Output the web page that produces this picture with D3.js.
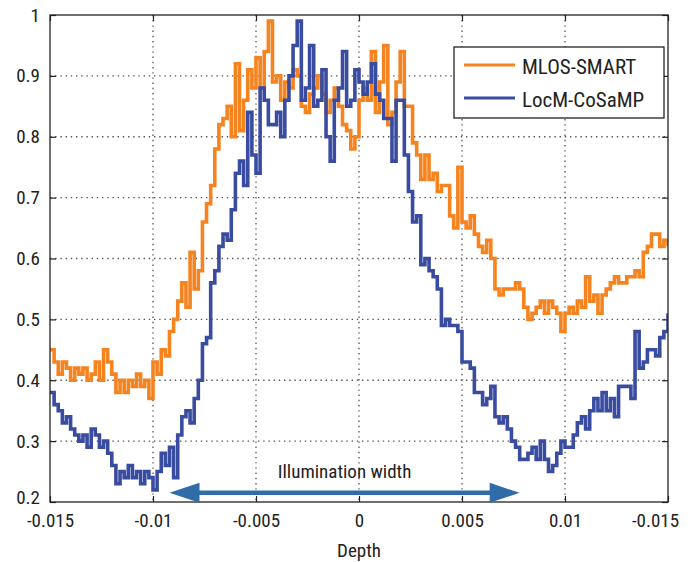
<!DOCTYPE html>
<html>
<head>
<meta charset="utf-8">
<script src="https://cdn.jsdelivr.net/npm/d3@7"></script>
<style>
body { margin: 0; background: #fff; }
svg text { font-family: "Liberation Sans Narrow", "Arial Narrow", "Roboto Condensed", sans-serif; fill: #222; }
</style>
</head>
<body>
<script>
// depth grid: start and step of the sampled profile
var depthStart = -0.015, depthStep = 0.0002;

var mlosSmart = [
  0.45,0.43,0.41,0.43,0.42,0.40,0.42,0.41,0.42,0.40,0.41,0.43,0.40,0.45,0.43,0.41,0.38,0.40,0.38,0.40,0.39,0.41,0.39,0.40,0.37,
  0.43,
  0.41,0.45,0.44,0.48,0.50,0.53,0.56,0.52,0.61,0.55,0.58,0.66,0.69,0.72,0.78,0.82,0.83,0.85,0.80,0.92,0.81,0.86,0.91,0.88,
  0.93,0.88,0.94,0.99,0.89,0.90,0.86,0.89,0.88,0.91,0.90,0.85,0.84,0.87,0.88,0.90,0.87,0.84,0.86,0.88,0.85,0.82,0.81,0.78,0.80,
  0.86,0.88,0.86,0.94,0.84,0.89,0.95,0.82,0.84,0.89,0.94,0.85,0.85,0.79,0.77,0.73,0.77,0.73,0.74,0.71,0.72,0.72,0.67,0.65,0.75,
  0.66,0.65,0.67,0.64,0.62,0.61,0.63,0.60,0.55,0.54,0.55,0.55,0.55,0.56,0.55,0.52,0.50,0.51,0.52,0.53,0.51,0.53,0.52,0.51,0.48,
  0.51,0.52,0.51,0.53,0.52,0.57,0.53,0.54,0.51,0.54,0.55,0.56,0.57,0.56,0.56,0.57,0.57,0.58,0.57,0.61,0.62,0.64,0.64,0.62,0.63,0.62
];
var locmCosamp = [
  0.38,0.36,0.35,0.33,0.34,0.32,0.31,0.30,0.31,0.29,0.32,0.31,0.29,0.30,0.28,0.26,0.23,0.25,0.24,0.26,0.24,0.25,0.23,0.25,0.24,
  0.22,
  0.25,0.28,0.26,0.29,0.24,0.31,0.34,0.35,0.33,0.37,0.40,0.46,0.47,0.56,0.58,0.62,0.64,0.63,0.68,0.74,0.76,0.72,0.84,0.77,
  0.74,0.88,0.86,0.82,0.82,0.84,0.80,0.86,0.90,0.95,0.99,0.86,0.88,0.95,0.85,0.86,0.91,0.80,0.76,0.86,0.88,0.94,0.85,0.86,0.91,
  0.89,0.87,0.89,0.92,0.87,0.86,0.83,0.83,0.76,0.86,0.86,0.77,0.71,0.66,0.67,0.59,0.60,0.58,0.57,0.55,0.49,0.50,0.49,0.49,0.48,
  0.43,0.43,0.42,0.38,0.38,0.36,0.37,0.39,0.34,0.33,0.34,0.32,0.30,0.29,0.27,0.27,0.28,0.29,0.27,0.30,0.27,0.25,0.26,0.28,0.30,
  0.29,0.29,0.31,0.33,0.34,0.32,0.35,0.37,0.35,0.38,0.35,0.37,0.34,0.39,0.39,0.39,0.37,0.48,0.42,0.43,0.45,0.45,0.44,0.47,0.48,0.51
];

var xTicks = [-0.015, -0.01, -0.005, 0, 0.005, 0.01, 0.015];
var xTickLabels = ["-0.015", "-0.01", "-0.005", "0", "0.005", "0.01", "-0.015"];
var yTicks = [0.2, 0.3, 0.4, 0.5, 0.6, 0.7, 0.8, 0.9, 1];
var yTickLabels = ["0.2", "0.3", "0.4", "0.5", "0.6", "0.7", "0.8", "0.9", "1"];
var seriesNames = ["MLOS-SMART", "LocM-CoSaMP"];
var seriesColors = ["#f5831f", "#3a4ca0"];
var arrowSpan = [-0.0092, 0.0078];
var arrowLevel = 0.215;

var W = 697, H = 562;
var m = [15, 29, 60, 50]; // top right bottom left
var w = W - m[1] - m[3], h = H - m[0] - m[2];

var x = d3.scaleLinear().domain([-0.015, 0.015]).range([0, w]);
var y = d3.scaleLinear().domain([0.2, 1]).range([h, 0]);

var svg = d3.select("body").append("svg")
    .attr("width", W)
    .attr("height", H);
var g = svg.append("g")
    .attr("transform", "translate(" + m[3] + "," + m[0] + ")");

// dotted grid
g.append("g").selectAll("line.gx")
    .data(xTicks.slice(1, -1))
    .enter().append("line")
    .attr("x1", function (d) { return x(d); })
    .attr("x2", function (d) { return x(d); })
    .attr("y1", 0).attr("y2", h)
    .attr("stroke", "#555").attr("stroke-width", 1.3)
    .attr("stroke-dasharray", "1.4,3.8");
g.append("g").selectAll("line.gy")
    .data(yTicks.slice(1, -1))
    .enter().append("line")
    .attr("y1", function (d) { return y(d); })
    .attr("y2", function (d) { return y(d); })
    .attr("x1", 0).attr("x2", w)
    .attr("stroke", "#555").attr("stroke-width", 1.3)
    .attr("stroke-dasharray", "1.4,3.8");

// series
var data = [mlosSmart, locmCosamp];
var line = d3.line()
    .x(function (d, i) { return x(depthStart + i * depthStep); })
    .y(function (d) { return y(d); })
    .curve(d3.curveStepAfter);
g.append("defs").append("clipPath").attr("id", "clip")
    .append("rect").attr("width", w).attr("height", h);
g.append("g").attr("clip-path", "url(#clip)").selectAll("path")
    .data(data)
    .enter().append("path")
    .attr("d", line)
    .attr("fill", "none")
    .attr("stroke", function (d, i) { return seriesColors[i]; })
    .attr("stroke-width", 3.6)
    .attr("stroke-linejoin", "miter");

// axes box with inward ticks
function styleAxis(sel) {
    sel.select(".domain").remove();
    sel.selectAll(".tick line").attr("stroke", "#222").attr("stroke-width", 1.2);
}
g.append("g").attr("transform", "translate(0," + h + ")")
    .call(d3.axisBottom(x).tickValues(xTicks).tickSize(-6).tickPadding(12)
        .tickFormat(function (d, i) { return xTickLabels[i]; }))
    .call(styleAxis)
    .selectAll("text")
    .attr("font-size", 19)
    .attr("dx", function (d, i) { return i === xTicks.length - 1 ? -13 : 0; });
g.append("g")
    .call(d3.axisTop(x).tickValues(xTicks).tickSize(-6).tickFormat(""))
    .call(styleAxis);
g.append("g")
    .call(d3.axisLeft(y).tickValues(yTicks).tickSize(-6).tickPadding(10)
        .tickFormat(function (d, i) { return yTickLabels[i]; }))
    .call(styleAxis)
    .selectAll("text")
    .attr("font-size", 19)
    .attr("dy", function (d, i) { return i === 0 ? "0.1em" : "0.32em"; });
g.append("g").attr("transform", "translate(" + w + ",0)")
    .call(d3.axisRight(y).tickValues(yTicks).tickSize(-6).tickFormat(""))
    .call(styleAxis);
g.append("rect")
    .attr("width", w).attr("height", h)
    .attr("fill", "none").attr("stroke", "#222").attr("stroke-width", 1.3);

// illumination width arrow
var arrowColor = "#2f6ca8";
var ay = y(arrowLevel);
g.append("line")
    .attr("x1", x(arrowSpan[0]) + 25).attr("x2", x(arrowSpan[1]) - 25)
    .attr("y1", ay).attr("y2", ay)
    .attr("stroke", arrowColor).attr("stroke-width", 4.5);
g.append("path")
    .attr("d", "M" + x(arrowSpan[0]) + "," + ay + "L" + (x(arrowSpan[0]) + 30) + "," + (ay - 10) + "L" + (x(arrowSpan[0]) + 30) + "," + (ay + 10) + "Z")
    .attr("fill", arrowColor);
g.append("path")
    .attr("d", "M" + x(arrowSpan[1]) + "," + ay + "L" + (x(arrowSpan[1]) - 30) + "," + (ay - 10) + "L" + (x(arrowSpan[1]) - 30) + "," + (ay + 10) + "Z")
    .attr("fill", arrowColor);
g.append("text")
    .attr("x", (x(arrowSpan[0]) + x(arrowSpan[1])) / 2)
    .attr("y", ay - 15)
    .attr("text-anchor", "middle")
    .attr("font-size", 19)
    .text("Illumination width");

// x label
g.append("text")
    .attr("x", w / 2)
    .attr("y", h + 55)
    .attr("text-anchor", "middle")
    .attr("font-size", 19)
    .text("Depth");

// legend
var legend = g.append("g").attr("transform", "translate(" + (w - 214) + ",32)");
legend.append("rect")
    .attr("width", 210).attr("height", 71)
    .attr("fill", "#fff").attr("stroke", "#222").attr("stroke-width", 1.3);
seriesNames.forEach(function (name, i) {
    var ly = 18 + i * 33;
    legend.append("line")
        .attr("x1", 10).attr("x2", 61)
        .attr("y1", ly).attr("y2", ly)
        .attr("stroke", seriesColors[i]).attr("stroke-width", 3.2);
    legend.append("text")
        .attr("x", 68).attr("y", ly + 9)
        .attr("font-size", 21)
        .text(name);
});
</script>
</body>
</html>
